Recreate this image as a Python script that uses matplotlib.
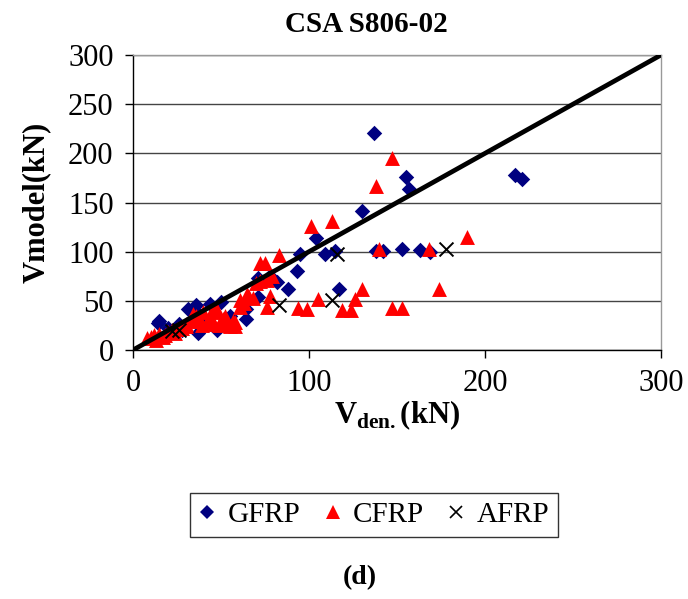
import matplotlib
matplotlib.use("Agg")
import matplotlib.pyplot as plt
from matplotlib.lines import Line2D

plt.rcParams['font.family'] = ['Liberation Serif', 'DejaVu Serif']
plt.rcParams['mathtext.fontset'] = 'custom'
plt.rcParams['mathtext.rm'] = 'Liberation Serif'
plt.rcParams['mathtext.bf'] = 'Liberation Serif:bold'

title = "CSA S806-02"
series_names = ["GFRP", "CFRP", "AFRP"]

gfrp_x = [15, 14, 26, 31, 35, 36, 44, 50, 37, 48, 64, 64, 71, 71, 78, 82, 88, 93, 95, 104,
          109, 115, 117, 130, 137, 138, 142, 153, 155, 157, 163, 169, 217, 221, 20, 25, 40, 55, 28]
gfrp_y = [29, 27, 26, 42, 40, 46, 47, 49, 17, 20, 32, 42, 54, 73, 75, 69, 62, 80, 98, 114,
          98, 101, 62, 141, 221, 101, 101, 103, 176, 164, 102, 100, 178, 174, 22, 23, 33, 35, 20]

cfrp_x = [8, 10, 12, 15, 18, 20, 22, 25, 30, 33, 36, 34, 38, 40, 44, 45, 48, 49, 50, 52,
          55, 58, 61, 61, 65, 66, 68, 70, 72, 72, 75, 76, 78, 79, 76, 83, 94, 99, 101, 105,
          113, 119, 124, 126, 130, 138, 140, 147, 147, 153, 168, 174, 190, 42, 46, 54, 58, 28, 30,
          47, 51, 44, 39, 57, 63, 13, 17, 24]
cfrp_y = [12, 13, 15, 16, 15, 18, 20, 21, 24, 29, 35, 37, 30, 39, 34, 40, 39, 25, 30, 35,
          24, 28, 44, 51, 57, 54, 53, 68, 70, 88, 88, 71, 55, 75, 44, 97, 43, 42, 126, 52,
          131, 41, 41, 52, 62, 167, 103, 195, 43, 43, 103, 62, 115, 28, 26, 26, 24, 22, 26,
          43, 32, 30, 25, 30, 48, 10, 13, 17]

afrp_x = [22, 26, 83, 113, 116, 178]
afrp_y = [19, 20, 46, 51, 98, 103]

line_x = [0, 300]
line_y = [0, 300]

xticks = [0, 100, 200, 300]
yticks = [0, 50, 100, 150, 200, 250, 300]

fig = plt.figure(figsize=(6.88, 5.99), dpi=100)
ax = fig.add_axes([133/688, 1-350/599, (661-133)/688, (350-55)/599])

ax.set_axisbelow(True)
ax.yaxis.grid(True, color='#444444', linewidth=1.0)
ax.xaxis.grid(False)

ax.scatter(gfrp_x, gfrp_y, marker='D', s=62, color='#000080', linewidths=0, zorder=3)
ax.scatter(cfrp_x, cfrp_y, marker='^', s=115, color='#ff0000', linewidths=0, zorder=3)
ax.scatter(afrp_x, afrp_y, marker='x', s=100, color='black', linewidths=1.4, zorder=4)
ax.plot(line_x, line_y, color='black', linewidth=3.4, zorder=5, solid_capstyle='round')

ax.set_xlim(0, 300)
ax.set_ylim(0, 300)
ax.set_xticks(xticks)
ax.set_yticks(yticks)
ax.tick_params(axis='both', labelsize=22, direction='out', length=6, width=1, colors='black')
ax.tick_params(axis='x', pad=8)
ax.tick_params(axis='y', pad=8)

for s in ['left', 'bottom']:
    ax.spines[s].set_color('black')
    ax.spines[s].set_linewidth(1.0)
for s in ['top', 'right']:
    ax.spines[s].set_color('#999999')
    ax.spines[s].set_linewidth(1.0)

fig.text(366/688, 1-24/599, title, fontsize=21, fontweight='bold', ha='center', va='center')
ax.set_xlabel(r'$\mathbf{V}_{\mathbf{den.}}\mathbf{(kN)}$', fontsize=22, labelpad=0)
ax.set_ylabel('Vmodel(kN)', fontsize=22, fontweight='bold', labelpad=12)

handles = [
    Line2D([], [], marker='D', linestyle='none', color='#000080', markersize=7, markeredgewidth=0),
    Line2D([], [], marker='^', linestyle='none', color='#ff0000', markersize=10, markeredgewidth=0),
    Line2D([], [], marker='x', linestyle='none', color='black', markersize=9, markeredgewidth=1.2),
]
leg = fig.legend(handles, series_names, loc='center', bbox_to_anchor=(374/688, 1-515/599),
                 ncol=3, fontsize=21, frameon=True, fancybox=False, edgecolor='black',
                 handlelength=0.6, handletextpad=0.4, columnspacing=0.8, borderpad=0.3)
leg.get_frame().set_linewidth(1.0)

fig.text(360/688, 1-578/599, '(d)', fontsize=20, fontweight='bold', ha='center', va='center')

fig.savefig('out.png', dpi=100)
